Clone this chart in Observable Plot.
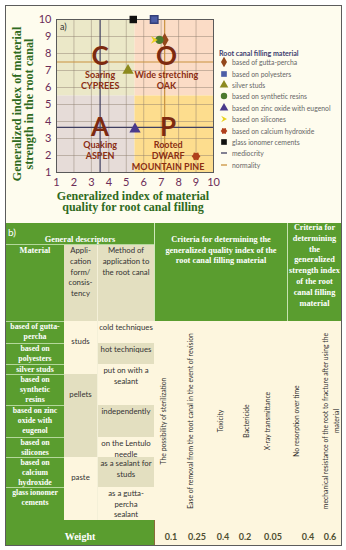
<!DOCTYPE html>
<html><head><meta charset="utf-8">
<script src="https://cdn.jsdelivr.net/npm/d3@7"></script>
<script src="https://cdn.jsdelivr.net/npm/@observablehq/plot@0.6"></script>
<style>
body{margin:0;background:#fff;}
#root{position:relative;width:346px;height:550px;overflow:hidden;font-family:Lato,sans-serif;}
.abs{position:absolute;box-sizing:border-box;}
.serif{font-family:"Liberation Serif",serif;font-weight:bold;color:#fff;text-align:center;white-space:pre-line;}
.sans{font-family:Lato,sans-serif;color:#333;text-align:center;white-space:pre-line;}
.rot{position:absolute;transform:translate(-50%,-50%) rotate(-90deg);white-space:pre;text-align:center;font-family:Lato,sans-serif;color:#2e2e2e;font-size:6.8px;line-height:11px;}
</style></head><body><div id="root"></div>
<script>
// ---------- chart data ----------
const xTicks = [1,2,3,4,5,6,7,8,9,10];
const yTicks = [1,2,3,4,5,6,7,8,9,10];
const xLabel = "Generalized index of material\nquality for root canal filling";
const yLabel = "Generalized index of material\nstrength in the root canal";
const legendTitle = "Root canal filling material";
const materials = ["based of gutta-percha","based on polyesters","silver studs","based on synthetic resins","based on zinc oxide with eugenol","based on silicones","based on calcium hydroxide","glass ionomer cements"];
const qualityIndex  = [7.2, 6.6, 5.1, 6.9, 5.5, 6.6, 9.0, 5.4];
const strengthIndex = [8.8, 10, 7.0, 8.8, 3.55, 8.8, 1.95, 10];
const referenceLines = ["mediocrity","normality"];
const mediocrityX = 3.5, mediocrityY = 3.65, normalityX = 7.2, normalityY = 7.5;
const quadLetters = ["C","O","A","P"];
const quadNames = ["Soaring\nCYPREES","Wide stretching\nOAK","Quaking\nASPEN","Rooted\nDWARF\nMOUNTAIN PINE"];
const quadX1 = [1,5.5,1,5.5], quadX2 = [5.5,10,5.5,10];
const quadY1 = [5.5,5.5,1,1], quadY2 = [10,10,5.5,5.5];
const letterX = [3.5,7.3,3.5,7.4], letterY = [7.8,7.8,3.65,3.65];

// ---------- table data ----------
const tableMaterials = ["based of gutta-\npercha","based on\npolyesters","silver studs","based on\nsynthetic\nresins","based on zinc\noxide with\neugenol","based on\nsilicones","based on\ncalcium\nhydroxide","glass ionomer\ncements"];
const applicationForms = ["studs","pellets","paste"];
const applicationMethods = ["cold techniques","hot techniques","put on with a\nsealant","independently","on the Lentulo\nneedle","as a sealant for\nstuds","as a gutta-\npercha\nsealant"];
const qualityCriteria = ["The possibility of sterilization","Ease of removal from the root canal in the event of revision","Toxicity","Bactericide","X-ray transmittance"];
const strengthCriteria = ["No resorption over time","mechanical resistance of the root to fracture after using the\nmaterial"];
const qualityWeights = [0.1,0.25,0.4,0.2,0.05];
const strengthWeights = [0.4,0.6];

// ---------- styles ----------
const quadFill = ["#ebe8c8","#fbdcc6","#e6dcd8","#fddd8e"];
const symFill = ["#94481c","#4d5ea6","#8c8a1e","#4c7a2e","#4a3a8c","#e9d21c","#b0401c","#111111"];
const chevron = {draw(ctx, size){const s=Math.sqrt(size)/2; ctx.moveTo(-s*0.9,-s*1.05); ctx.lineTo(s*0.95,0); ctx.lineTo(-s*0.9,s*1.05); ctx.lineTo(-s*0.25,0); ctx.closePath();}};
const flower = {draw(ctx, size){const R=Math.sqrt(size/Math.PI)*1.05; for(let k=0;k<12;k++){const a=k*Math.PI/6, r=k%2?R*0.78:R; const px=r*Math.cos(a), py=r*Math.sin(a); if(k===0)ctx.moveTo(px,py); else ctx.lineTo(px,py);} ctx.closePath();}};
const symType = [d3.symbolDiamond, d3.symbolSquare, d3.symbolTriangle, d3.symbolCircle, d3.symbolTriangle, chevron, flower, d3.symbolSquare];
const refColor = ["#3f3f60","#c9913f"];
const GREEN="#5a9d2f", BEIGE="#e3dfc0", CREAM="#fdf6de", LINE="#b4d89b";

const root = document.getElementById("root");
function box(x,y,w,h,css,text,cls){const d=document.createElement("div");d.className="abs "+(cls||"");d.style.cssText=`left:${x}px;top:${y}px;width:${w}px;height:${h}px;`+(css||"");if(text!=null)d.textContent=text;root.appendChild(d);return d;}

// chart background
box(6,6,335,217,"background:#fefcee");

const idx = d3.range(materials.length);
const qIdx = d3.range(4);
const chart = Plot.plot({
  width: 346, height: 222,
  marginLeft: 56, marginRight: 133, marginTop: 19, marginBottom: 50,
  style: {background: "transparent", fontFamily: "Lato, sans-serif", fontSize: "11px", color: "#6c2c58", overflow: "visible"},
  x: {domain: [1,10]},
  y: {domain: [1,10]},
  marks: [
    Plot.rect(qIdx, {x1: i=>quadX1[i], x2: i=>quadX2[i], y1: i=>quadY1[i], y2: i=>quadY2[i], fill: i=>quadFill[i]}),
    Plot.gridX(xTicks, {stroke: "#8a7a6a", strokeOpacity: 0.45}),
    Plot.gridY(yTicks, {stroke: "#8a7a6a", strokeOpacity: 0.45}),
    Plot.ruleX([mediocrityX], {stroke: refColor[0], strokeWidth: 1.2}),
    Plot.ruleY([mediocrityY], {stroke: refColor[0], strokeWidth: 1.2}),
    Plot.ruleX([normalityX], {stroke: refColor[1], strokeWidth: 1.2}),
    Plot.ruleY([normalityY], {stroke: refColor[1], strokeWidth: 1.2}),
    Plot.frame({stroke: "#5a5a5a"}),
    Plot.text(qIdx, {x: i=>letterX[i], y: i=>letterY[i], text: i=>quadLetters[i], fontSize: 26, fontWeight: "bold", fill: "#7d2a10"}),
    Plot.text(qIdx, {x: i=>letterX[i], y: i=>letterY[i], text: i=>quadNames[i], dy: 13, lineAnchor: "top", lineHeight: 1.22, fontSize: 9, fontWeight: "bold", fill: "#8a2d12"}),
    Plot.dot(idx, {x: i=>qualityIndex[i], y: i=>strengthIndex[i], symbol: i=>symType[i], fill: i=>symFill[i], stroke: i=> i===1 ? "#34407a" : "none", r: 4.2}),
    Plot.axisX(xTicks, {tickSize: 0, tickPadding: 6, label: null, fill: "#6c2c58", fontSize: 11}),
    Plot.axisY(yTicks, {tickSize: 0, tickPadding: 5, label: null, fill: "#6c2c58", fontSize: 11}),
    Plot.text([xLabel], {frameAnchor: "bottom", dy: 29.5, dx: -2, textAnchor: "middle", lineAnchor: "middle", lineHeight: 0.95, fontSize: 12, fontWeight: "bold", fontFamily: "Liberation Serif, serif", fill: "#2e6a20"}),
    Plot.text([yLabel], {frameAnchor: "left", rotate: -90, dx: -33, dy: 8, textAnchor: "middle", lineAnchor: "middle", lineHeight: 0.98, fontSize: 12.2, fontWeight: "bold", fontFamily: "Liberation Serif, serif", fill: "#2e6a20"})
  ]
});
chart.style.position = "absolute"; chart.style.left = "0px"; chart.style.top = "0px";
root.appendChild(chart);

// "a)" label
box(60,20,20,14,"font:9px Lato;color:#333;line-height:14px","a)");

// legend
box(219,49,125,10,"font:bold 7.1px Lato;color:#3c3c6e;line-height:10px;white-space:nowrap",legendTitle);
const legendItems = materials.map((m,i)=>({label:m, sym:d3.symbol().type(symType[i]).size(i===5?40:32)(), color:symFill[i]}))
  .concat(referenceLines.map((m,i)=>({label:m, line:refColor[i]})));
legendItems.forEach((it,i)=>{
  const cy = 62.4 + i*11.35;
  const d = box(219,cy-5,125,10,"font:6.8px Lato;color:#666;line-height:10px;white-space:nowrap");
  const icon = it.sym ? `<path d="${it.sym}" transform="translate(5,5)" fill="${it.color}"/>` : `<line x1="2" x2="8" y1="5" y2="5" stroke="${it.line}" stroke-width="1.3"/>`;
  d.innerHTML = `<svg width="10" height="10" style="position:absolute;left:0;top:0">${icon}</svg><span style="position:absolute;left:13px;top:0">${it.label}</span>`;
});

// ---------- table ----------
box(6,223,335,98,`background:${GREEN}`);
box(8,225,20,14,"font:10px Lato;color:#fff;line-height:14px","b)");
box(6,234,148,12,"font-size:8.3px;line-height:12px","General descriptors","serif");
box(6,244,148,1,`background:${LINE}`);
box(6,245,58,12,"font-size:8.3px;line-height:11px","Material","serif");
box(64,245,33,76,`background:${BEIGE};font-size:7.8px;line-height:10.8px`,"Appli-\ncation\nform/\nconsis-\ntency","sans");
box(97,245,57,76,`background:${BEIGE};border-left:1px solid #f4f0d8;font-size:7.8px;line-height:10.8px`,"Method of\napplication to\nthe root canal","sans");
box(154,223,1,98,"background:#cfe8bc");
box(287,223,1,98,"background:#c6e2b0");
box(155,235,132,40,"font-size:8.3px;line-height:10.7px","Criteria for determining the\ngeneralized quality index of the\nroot canal filling material","serif");
box(288,223,53,98,"font-size:8.3px;line-height:10.8px","Criteria for\ndetermining\nthe\ngeneralized\nstrength index\nof the root\ncanal filling\nmaterial","serif");

const rowTops = [321,343,364,374,405,437,457,487,520];
tableMaterials.forEach((t,i)=>{
  box(6,rowTops[i],58,rowTops[i+1]-rowTops[i],`background:${GREEN};border-top:1px solid ${LINE};font-size:7.8px;line-height:10.2px;overflow:hidden`,t,"serif");
});
const appSpans = [[0,3],[3,6],[6,8]];
applicationForms.forEach((t,i)=>{
  const [a,b]=appSpans[i];
  box(64,rowTops[a],33,rowTops[b]-rowTops[a],`background:${i%2?BEIGE:CREAM};font-size:7.8px;line-height:10.8px;padding-top:15px`,t,"sans");
});
const methodSpans = [[0,1],[1,2],[2,4],[4,5],[5,6],[6,7],[7,8]];
applicationMethods.forEach((t,i)=>{
  const [a,b]=methodSpans[i];
  box(97,rowTops[a],57,rowTops[b]-rowTops[a],`background:${i%2?BEIGE:CREAM};border-left:1px solid #f4f0d8;font-size:7.8px;line-height:10.6px;padding-top:1px`,t,"sans");
});
box(154,321,187,199,`background:${CREAM}`);
const critCx = [163,190,220,246,267,296,331];
qualityCriteria.concat(strengthCriteria).forEach((t,i)=>{
  const d=document.createElement("div"); d.className="rot"; d.style.left=critCx[i]+"px"; d.style.top="421px"; d.textContent=t; root.appendChild(d);
});
box(6,520,148,25,`background:${GREEN}`);
box(6,530,148,14,"font-size:10px;line-height:14px","Weight","serif");
box(154,520,187,25,`background:${CREAM};border-left:1px solid #8a6a3a`);
const weightCx = [171,197,223,245,273,308,330];
qualityWeights.concat(strengthWeights).forEach((w,i)=>{
  box(weightCx[i]-15,530,30,14,"font:bold 9px Lato;color:#4e4e30;text-align:center;line-height:14px",String(w));
});

// outer frame
box(5,5,337,541,"border:1px solid #5c5c5c");
</script></body></html>
